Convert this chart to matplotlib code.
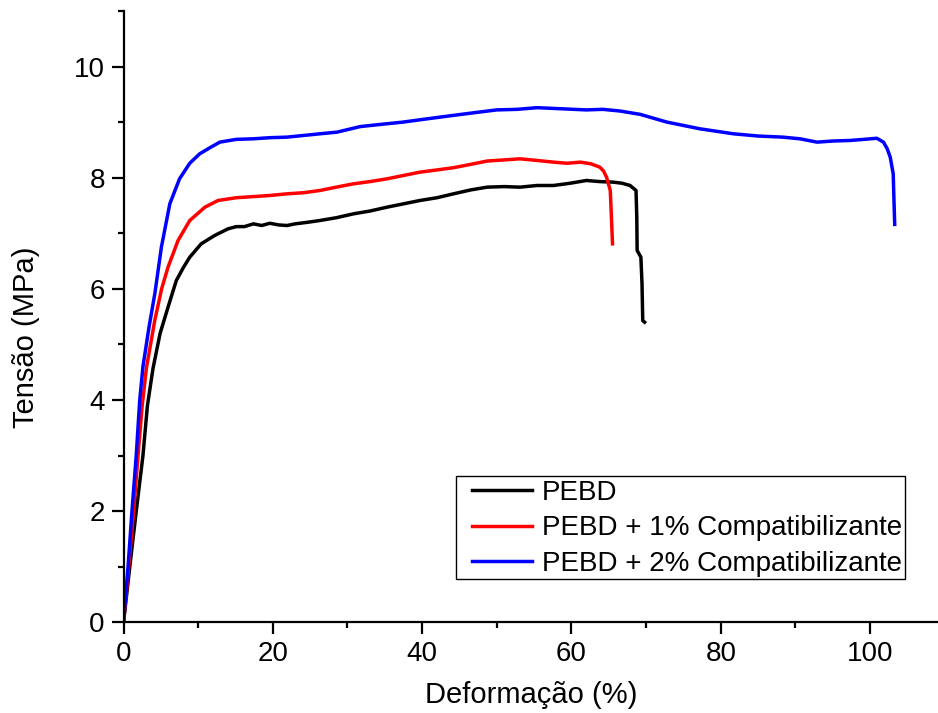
import matplotlib
matplotlib.use("Agg")
import matplotlib.pyplot as plt
from matplotlib.ticker import MultipleLocator
from matplotlib.patches import Rectangle

plt.rcParams['font.family'] = ['Liberation Sans', 'DejaVu Sans']

# PEBD (black)
x_pebd = [0.0, 0.83, 1.72, 2.6, 3.2, 3.95, 4.9, 5.96, 7.07, 8.0, 8.87, 10.4, 12.2, 14.0, 15.1,
          16.2, 17.4, 18.5, 19.6, 20.8, 21.9, 23.0, 24.2, 25.3, 26.3, 28.5, 30.8, 33.0, 35.3,
          37.5, 39.7, 42.0, 44.2, 46.5, 48.7, 51.0, 53.1, 55.4, 57.6, 59.8, 62.0, 63.8, 65.6,
          66.8, 67.85, 68.65, 68.75, 68.8, 69.3, 69.45, 69.55, 69.8]
y_pebd = [0.0, 0.99, 2.02, 3.0, 3.9, 4.57, 5.2, 5.67, 6.15, 6.38, 6.57, 6.81, 6.96, 7.08, 7.12,
          7.12, 7.17, 7.14, 7.18, 7.15, 7.14, 7.17, 7.19, 7.21, 7.23, 7.28, 7.35, 7.40, 7.47,
          7.53, 7.59, 7.64, 7.71, 7.78, 7.83, 7.84, 7.83, 7.86, 7.86, 7.90, 7.95, 7.93, 7.92,
          7.90, 7.86, 7.77, 7.30, 6.69, 6.57, 6.10, 5.43, 5.40]

# PEBD + 1% Compatibilizante (red)
x_pebd1 = [0.0, 0.69, 1.37, 1.94, 2.5, 3.06, 4.18, 5.1, 5.96, 7.3, 8.87, 10.9, 12.66, 15.1,
           17.4, 19.6, 21.9, 24.1, 26.3, 28.5, 30.8, 33.0, 35.3, 37.5, 39.7, 42.0, 44.2, 46.5,
           48.7, 51.0, 53.1, 55.4, 57.6, 59.4, 61.2, 62.6, 63.8, 64.3, 64.7, 65.2, 65.35, 65.5]
y_pebd1 = [0.0, 0.99, 2.02, 3.0, 3.9, 4.57, 5.43, 6.0, 6.39, 6.87, 7.23, 7.47, 7.59, 7.64,
           7.66, 7.68, 7.71, 7.73, 7.77, 7.83, 7.89, 7.93, 7.98, 8.04, 8.10, 8.14, 8.18, 8.24,
           8.30, 8.32, 8.34, 8.31, 8.28, 8.26, 8.28, 8.25, 8.19, 8.12, 8.01, 7.77, 7.30, 6.81]

# PEBD + 2% Compatibilizante (blue)
x_pebd2 = [0.0, 0.6, 1.14, 1.7, 2.17, 2.6, 3.4, 4.2, 5.07, 6.2, 7.5, 8.87, 10.2, 11.7, 12.9,
           15.1, 17.4, 19.6, 21.9, 24.1, 26.3, 28.6, 31.7, 34.5, 37.4, 40.7, 44.1, 47.0, 50.0,
           52.7, 55.4, 58.7, 62.0, 64.2, 66.5, 69.2, 72.8, 77.2, 81.7, 85.0, 88.3, 90.6, 92.9,
           95.0, 97.3, 99.2, 100.9, 101.8, 102.3, 102.7, 103.1, 103.2, 103.3]
y_pebd2 = [0.0, 0.99, 2.02, 3.0, 4.0, 4.6, 5.3, 5.92, 6.75, 7.53, 7.98, 8.26, 8.43, 8.55, 8.64,
           8.69, 8.70, 8.72, 8.73, 8.76, 8.79, 8.82, 8.92, 8.96, 9.0, 9.06, 9.12, 9.17, 9.22,
           9.23, 9.26, 9.24, 9.22, 9.23, 9.20, 9.14, 9.0, 8.88, 8.79, 8.75, 8.73, 8.70, 8.64,
           8.66, 8.67, 8.69, 8.71, 8.64, 8.52, 8.37, 8.07, 7.6, 7.16]

labels = ["PEBD", "PEBD + 1% Compatibilizante", "PEBD + 2% Compatibilizante"]
colors = ["black", "#ff0000", "#0000ff"]

fig = plt.figure(figsize=(9.38, 7.13), dpi=100)
ax = fig.add_axes([0.1317, 0.1272, 0.8683, 0.8574])

for xs, ys, lab, c in zip([x_pebd, x_pebd1, x_pebd2], [y_pebd, y_pebd1, y_pebd2], labels, colors):
    ax.plot(xs, ys, color=c, lw=2.5, label=lab, solid_joinstyle='round')

ax.set_xlim(0, 109.1)
ax.set_ylim(0, 11)
ax.xaxis.set_major_locator(MultipleLocator(20))
ax.xaxis.set_minor_locator(MultipleLocator(10))
ax.yaxis.set_major_locator(MultipleLocator(2))
ax.yaxis.set_minor_locator(MultipleLocator(1))

for s in ['top', 'right']:
    ax.spines[s].set_visible(False)
for s in ['left', 'bottom']:
    ax.spines[s].set_linewidth(1.6)

ax.tick_params(which='major', direction='out', length=8.5, width=1.6, labelsize=20, pad=5)
ax.tick_params(which='minor', direction='out', length=4.5, width=1.6)

ax.set_xlabel("Deformação (%)", fontsize=21, labelpad=10)
ax.set_ylabel("Tensão (MPa)", fontsize=21)
ax.yaxis.set_label_coords(-0.102, 0.467)

# legend frame drawn as a separate box
ax.add_patch(Rectangle((0.4082, 0.0708), 0.5513, 0.1685, transform=ax.transAxes,
                       facecolor='white', edgecolor='black', lw=1.0, zorder=4))
leg = ax.legend(loc='upper left', bbox_to_anchor=(0.4279, 0.2328), fontsize=20,
                frameon=False, handlelength=2.16, handletextpad=0.35, borderpad=0.0,
                labelspacing=0.34, borderaxespad=0)
leg.set_zorder(5)

fig.savefig("out.png", dpi=100)
